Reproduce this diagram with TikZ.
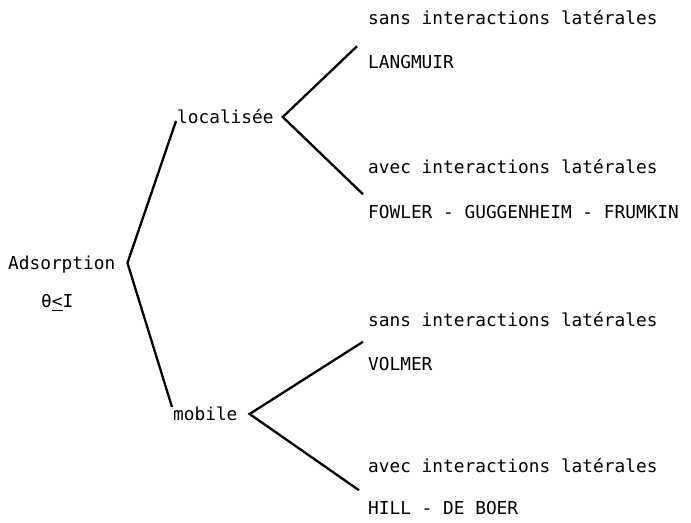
\documentclass[tikz,border=0pt]{standalone}
\usepackage{fontspec}
\setmonofont{DejaVu Sans Mono}
\usetikzlibrary{positioning}

\begin{document}
\begin{tikzpicture}[x=0.5pt, y=-0.5pt, line width=1.15pt]

\tikzstyle{every node}=[font=\ttfamily\fontsize{8.9}{10}\selectfont, inner sep=0pt, text height=6.6pt, text depth=0pt, anchor=west]

\useasboundingbox (0,0) rectangle (691,523);

\node (ads) at (7,263) {Adsorption};
\node (cond) at (40,301) {θ\underline{<}I};

\node (loc) at (176,117) {localisée};
\node (mob) at (172,414) {mobile};

% localisee
\node (ls1) at (367,18) {sans interactions latérales};
\node (ln1) at (367,62) {LANGMUIR};
\node (la1) at (367,167) {avec interactions latérales};
\node (lf1) at (367,212) {FOWLER - GUGGENHEIM - FRUMKIN};

% mobile
\node (ms1) at (367,320) {sans interactions latérales};
\node (mv1) at (367,364) {VOLMER};
\node (ma1) at (367,466) {avec interactions latérales};
\node (mh1) at (367,508) {HILL - DE BOER};

\draw ([yshift=-2pt]loc.west) -- ([xshift=5.5pt]ads.east) -- ([yshift=3.5pt]mob.west);
\draw ([xshift=-5pt,yshift=4pt]ln1.north west) -- ([xshift=4pt]loc.east) -- ([xshift=-2pt,yshift=5pt]lf1.north west);
\draw ([xshift=-2pt,yshift=-7pt]ms1.south west) -- ([xshift=5.5pt]mob.east) -- ([xshift=-4pt,yshift=5pt]mh1.north west);

\end{tikzpicture}
\end{document}
